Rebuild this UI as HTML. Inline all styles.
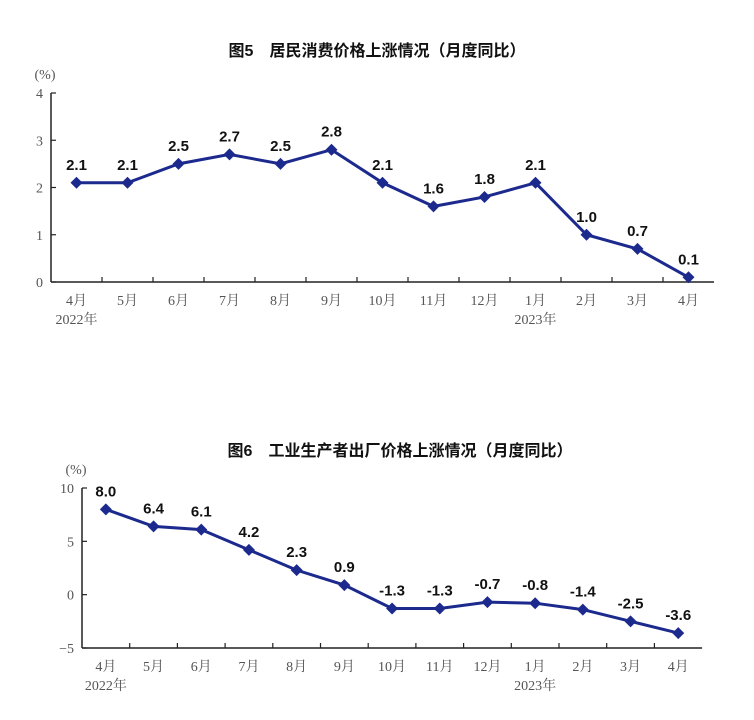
<!DOCTYPE html>
<html><head><meta charset="utf-8"><style>
body{margin:0;background:#fff;width:754px;height:720px;overflow:hidden}
svg{display:block}
.t{font-family:"Liberation Sans","Noto Sans CJK SC",sans-serif;font-size:16px;font-weight:bold;fill:#111}
.ax{font-family:"Liberation Serif","Noto Serif CJK SC",serif;font-size:14px;fill:#555}
.v{font-family:"Liberation Sans",sans-serif;font-weight:bold;font-size:15px;fill:#111}
</style></head><body>
<svg id="s" width="754" height="720">
<text class="t" x="377" y="56" text-anchor="middle">图5　居民消费价格上涨情况（月度同比）</text>
<text class="t" x="400" y="456" text-anchor="middle">图6　工业生产者出厂价格上涨情况（月度同比）</text>
</svg>
<script>
const months=["4月","5月","6月","7月","8月","9月","10月","11月","12月","1月","2月","3月","4月"];
const cpi=[2.1,2.1,2.5,2.7,2.5,2.8,2.1,1.6,1.8,2.1,1.0,0.7,0.1];
const ppi=[8.0,6.4,6.1,4.2,2.3,0.9,-1.3,-1.3,-0.7,-0.8,-1.4,-2.5,-3.6];
const cpiTicks=[0,1,2,3,4];
const ppiTicks=[-5,0,5,10];
const NS="http://www.w3.org/2000/svg";
const svg=document.getElementById('s');
function mk(tag,attrs,parent){const e=document.createElementNS(NS,tag);for(const k in attrs)e.setAttribute(k,attrs[k]);(parent||svg).appendChild(e);return e;}
function chart(c){
  const g=mk('g',{});
  
  
  const y=v=>c.y0+(v-c.vmin)/(c.vmax-c.vmin)*(c.y1-c.y0);
  const x=i=>c.x0+(i+0.5)*c.step;
  const xe=c.x0+months.length*c.step;
  mk('line',{x1:c.x0,y1:y(c.vmax),x2:c.x0,y2:y(c.vmin),stroke:'#222','stroke-width':1.5},g);
  mk('line',{x1:c.x0,y1:y(c.vmin),x2:xe,y2:y(c.vmin),stroke:'#222','stroke-width':1.5},g);
  c.ticks.forEach(t=>{
    mk('line',{x1:c.x0,y1:y(t),x2:c.x0+5,y2:y(t),stroke:'#222','stroke-width':1.2},g);
    const tx=mk('text',{x:c.x0-8,y:y(t)+5,'text-anchor':'end',class:'ax'},g);tx.textContent=(t<0?'−'+(-t):t);
    
    
  });
  const u=mk('text',{x:c.x0-6,y:y(c.vmax)-14,'text-anchor':'middle',class:'ax','font-size':11},g);u.textContent='(%)';
  
  
  months.forEach((m,i)=>{
    if(i>0)mk('line',{x1:c.x0+i*c.step,y1:y(c.vmin),x2:c.x0+i*c.step,y2:y(c.vmin)-5,stroke:'#222','stroke-width':1.2},g);
    const tx=mk('text',{x:x(i),y:y(c.vmin)+23,'text-anchor':'middle',class:'ax'},g);tx.textContent=m;
    
    
  });
  [[0,'2022年'],[9,'2023年']].forEach(([i,s])=>{const tx=mk('text',{x:x(i),y:y(c.vmin)+42,'text-anchor':'middle',class:'ax'},g);tx.textContent=s;
    
    });
  const d=c.data.map((v,i)=>(i?'L':'M')+x(i)+','+y(v)).join(' ');
  const p=mk('path',{d:d,fill:'none',stroke:'#1c2a8e','stroke-width':3},g);
  
  
  c.data.forEach((v,i)=>{
    const px=x(i),py=y(v);
    const m=mk('path',{d:`M${px},${py-6}L${px+6},${py}L${px},${py+6}L${px-6},${py}Z`,fill:'#1c2a8e'},g);
    
    
    const tx=mk('text',{x:px,y:py-13,'text-anchor':'middle',class:'v'},g);tx.textContent=v.toFixed(1);
    
    
  });
}
chart({name:'cpi-chart',data:cpi,ticks:cpiTicks,vmin:0,vmax:4,x0:51,step:51,y0:282,y1:93});
chart({name:'ppi-chart',data:ppi,ticks:ppiTicks,vmin:-5,vmax:10,x0:82,step:47.7,y0:648,y1:488});
</script>
</body></html>
